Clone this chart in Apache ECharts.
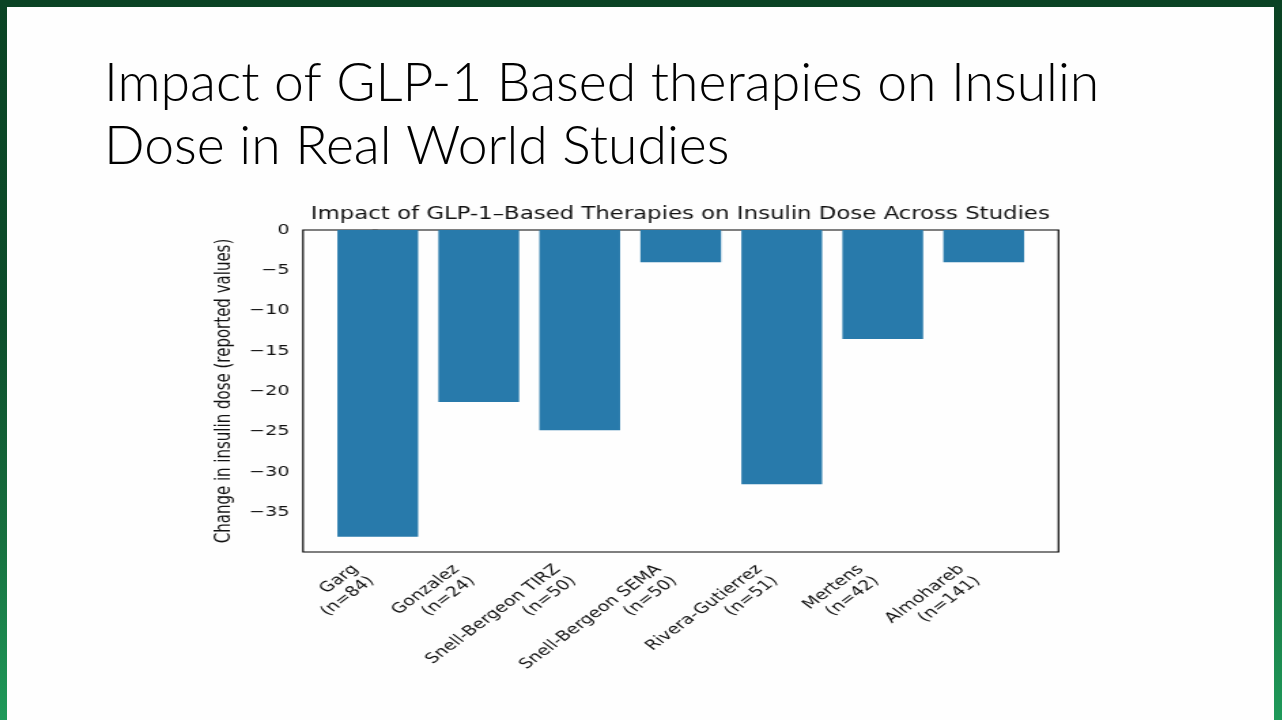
<!DOCTYPE html>
<html>
<head>
<meta charset="utf-8">
<script src="https://cdn.jsdelivr.net/npm/echarts@6/dist/echarts.min.js"></script>
<style>
  html, body { margin: 0; padding: 0; width: 1282px; height: 720px; overflow: hidden; }
  body { background: linear-gradient(to bottom, #0a4324 0%, #0d4d2b 45%, #17703f 75%, #1f9a5a 100%); position: relative; }
  #slide { position: absolute; left: 7px; top: 7px; width: 1267px; height: 713px; background: #fefefe; }
  #head { position: absolute; left: 0; top: 0; width: 1282px; height: 200px; }
  #chart { position: absolute; left: 0; top: 0; height: 720px; transform-origin: 0 0; }
</style>
</head>
<body>
<div id="slide"></div>
<div id="head"></div>
<div id="chart"></div>
<script>
const slideTitle = 'Impact of GLP-1 Based therapies on Insulin\nDose in Real World Studies';
const chartTitle = 'Impact of GLP-1\u2013Based Therapies on Insulin Dose Across Studies';
const yAxisName = 'Change in insulin dose (reported values)';
const categories = [
  'Garg\n(n=84)',
  'Gonzalez\n(n=24)',
  'Snell-Bergeon TIRZ\n(n=50)',
  'Snell-Bergeon SEMA\n(n=50)',
  'Rivera-Gutierrez\n(n=51)',
  'Mertens\n(n=42)',
  'Almohareb\n(n=141)'
];
const values = [-38.0, -21.3, -24.8, -4.0, -31.5, -13.5, -4.0];
const yTicks = [-35, -30, -25, -20, -15, -10, -5, 0];

// The chart picture in the slide is stretched horizontally
const stretch = 1.36;
const W = 1282, H = 720;
const cw = W / stretch;
const chartDiv = document.getElementById('chart');
chartDiv.style.width = cw + 'px';
chartDiv.style.transform = 'scaleX(' + stretch + ')';

// slide heading
const head = echarts.init(document.getElementById('head'));
head.setOption({
  animation: false,
  title: {
    text: slideTitle, left: 99, top: 47,
    textStyle: { fontFamily: 'Lato', fontWeight: 300, fontSize: 53.5, lineHeight: 63, color: '#000' }
  }
});

const chart = echarts.init(chartDiv);

// matplotlib-like limits: bars of width 0.8 with 5% margins, y from 0 down to min*1.05
const barFrac = 0.8;
const span = categories.length - 1 + barFrac;
const xMin = -barFrac / 2 - 0.05 * span;
const xMax = categories.length - 1 + barFrac / 2 + 0.05 * span;
const yMin = Math.min(...values) * 1.05;
const gridLeft = 303 / stretch, gridRightEdge = 1058 / stretch;
const gridTop = 230, gridBottom = H - 552;
const plotW = gridRightEdge - gridLeft;
const pxPerUnit = plotW / (xMax - xMin);
const labelShift = 10.5 / pxPerUnit;
const idx = categories.map((c, i) => i);

const font = 'DejaVu Sans';
const txt = '#111';

chart.setOption({
  animation: false,
  title: {
    text: chartTitle,
    left: (gridLeft + gridRightEdge) / 2 - 7 / stretch, top: 201, textAlign: 'center',
    textStyle: { fontFamily: font, fontWeight: 'normal', fontSize: 16.8, color: txt }
  },
  grid: {
    left: gridLeft, right: cw - gridRightEdge, top: gridTop, bottom: gridBottom,
    show: true, borderColor: '#000', borderWidth: 1.2, backgroundColor: 'transparent'
  },
  xAxis: {
    type: 'value', min: xMin, max: xMax,
    splitLine: { show: false },
    axisLine: { show: false },
    axisTick: { show: true, length: 5, lineStyle: { color: '#000', width: 1.1 }, customValues: idx },
    axisLabel: {
      customValues: idx.map(i => i - labelShift),
      formatter: v => categories[Math.round(v + labelShift)] || '',
      rotate: 45, margin: 21,
      fontFamily: font, fontSize: 14, lineHeight: 16.5, color: txt, align: 'right'
    }
  },
  yAxis: {
    type: 'value', min: yMin, max: 0,
    name: yAxisName, nameLocation: 'middle', nameGap: 43,
    nameTextStyle: { fontFamily: font, fontSize: 15, color: txt },
    splitLine: { show: false },
    axisLine: { show: false },
    axisTick: { show: true, length: 4, lineStyle: { color: '#000', width: 1.4 }, customValues: yTicks },
    axisLabel: {
      customValues: yTicks,
      formatter: v => (v < 0 ? '\u2212' + Math.abs(v) : String(v)),
      margin: 10, fontFamily: font, fontSize: 14, color: txt
    }
  },
  series: [{
    type: 'bar',
    data: values.map((v, i) => [i, v]),
    barWidth: barFrac * pxPerUnit,
    itemStyle: { color: '#287aab' }
  }]
});
</script>
</body>
</html>
